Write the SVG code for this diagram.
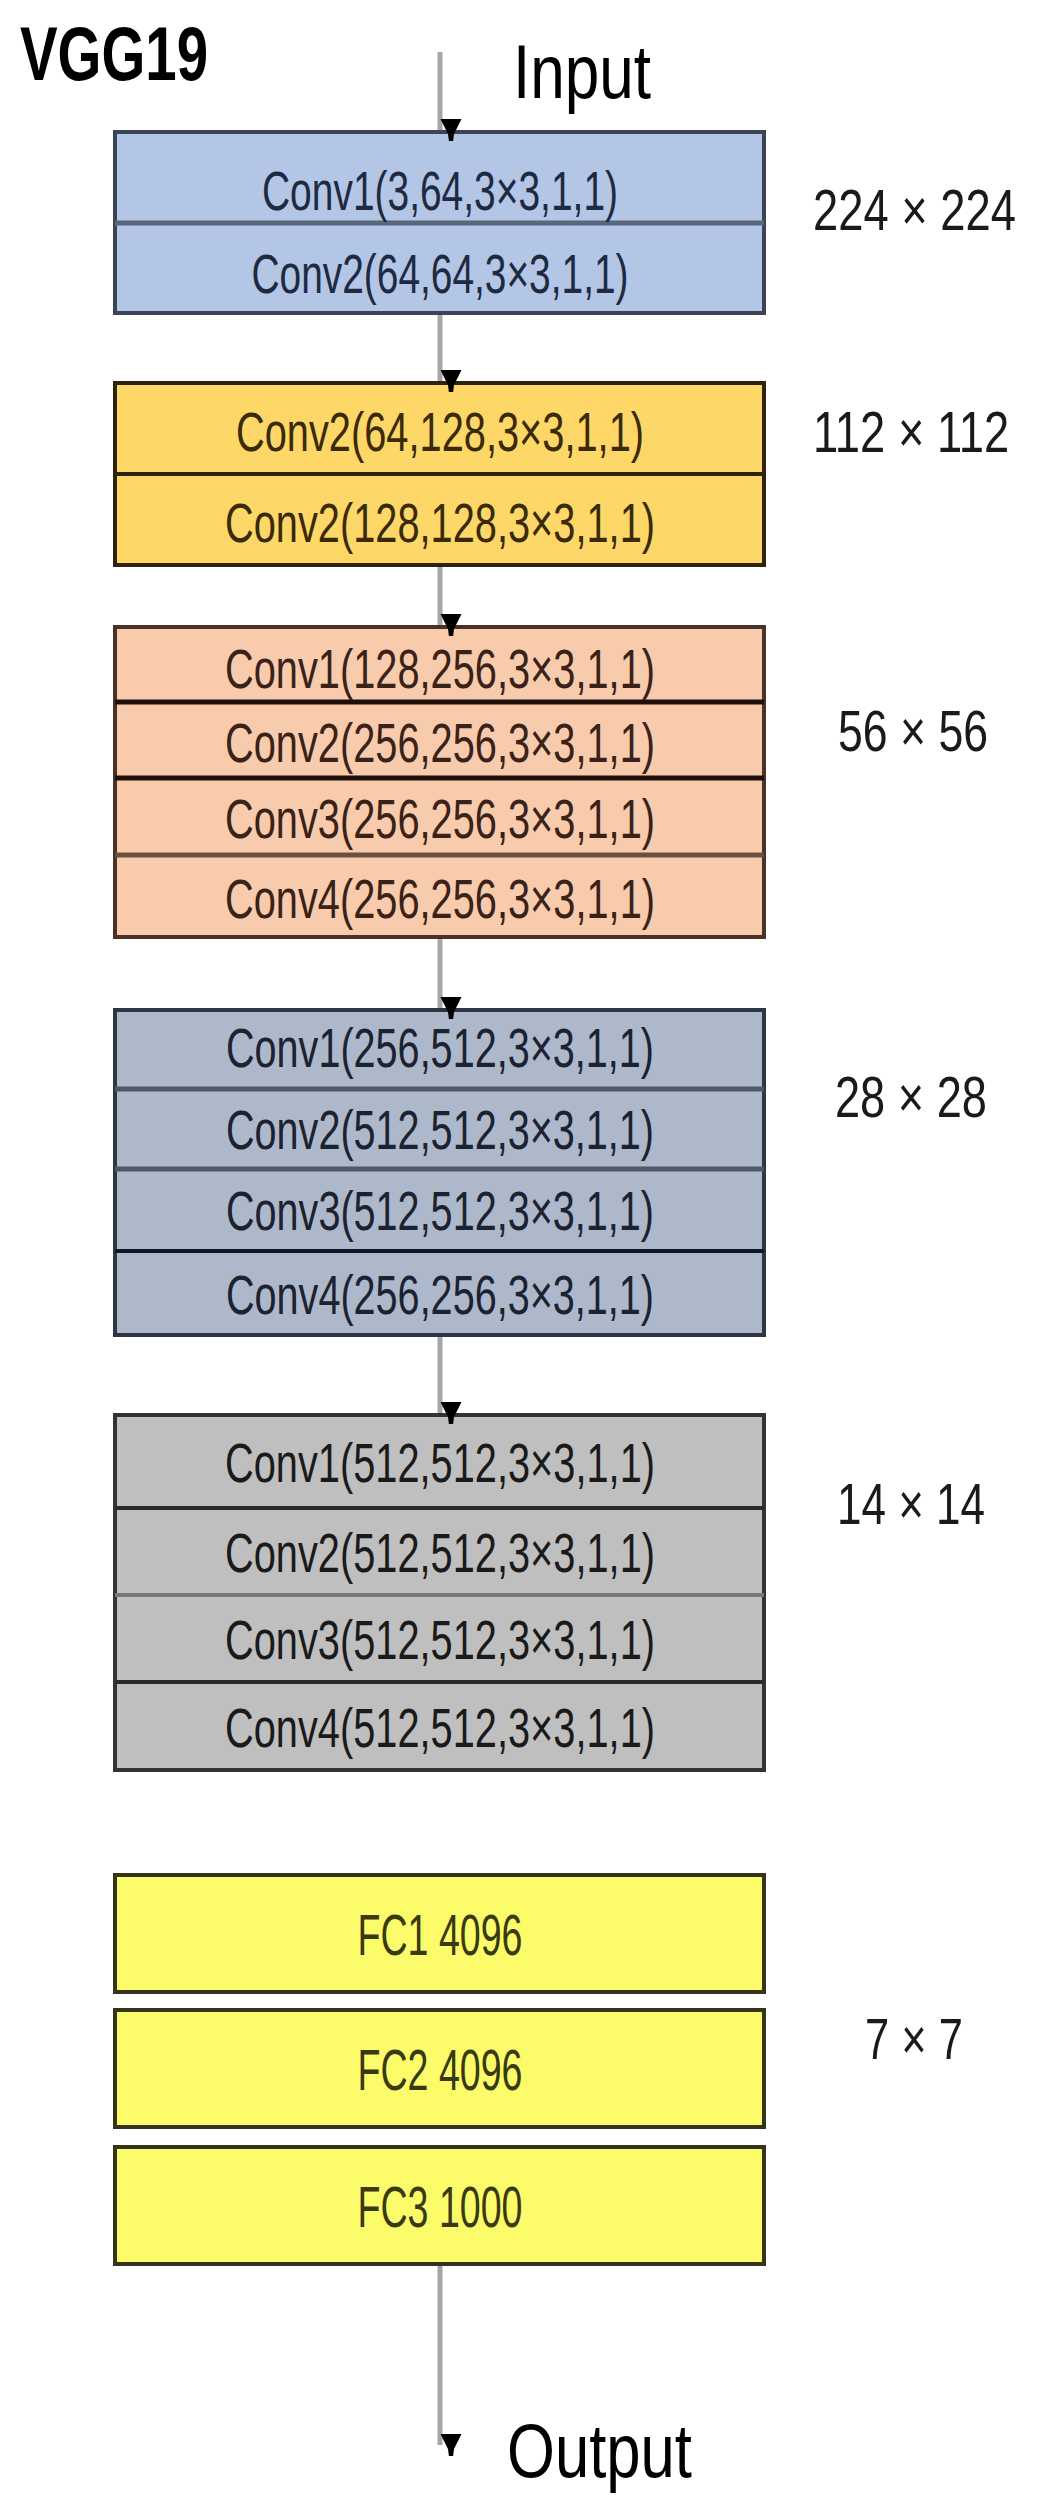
<svg xmlns="http://www.w3.org/2000/svg" width="1038" height="2501" viewBox="0 0 1038 2501">
<style>
  .t { font-family: "Liberation Sans", Arial, sans-serif; text-anchor: middle; font-size: 55px; }
  .fc { font-family: "Liberation Sans", Arial, sans-serif; text-anchor: middle; font-size: 57px; fill: #3a3a12; }
  .lbl { font-family: "Liberation Sans", Arial, sans-serif; text-anchor: start; font-size: 58px; fill: #1a1a1a; }
  .big { font-family: "Liberation Sans", Arial, sans-serif; font-size: 76px; fill: #000; }
  .b1 { fill: #b4c6e6; stroke: #3a4456; stroke-width: 4; }
  .b2 { fill: #fdd767; stroke: #2e230c; stroke-width: 4; }
  .b3 { fill: #f7cbac; stroke: #4a3326; stroke-width: 4; }
  .b4 { fill: #adb9cb; stroke: #2e3644; stroke-width: 4; }
  .b5 { fill: #bfbfbf; stroke: #333333; stroke-width: 4; }
  .b6 { fill: #fcfc6a; stroke: #35341a; stroke-width: 4; }
  .d1 { stroke: #5a667a; stroke-width: 5; }
  .d2 { stroke: #2e230c; stroke-width: 4; }
  .d3 { stroke: #1e0f0a; stroke-width: 5; }
  .d4 { stroke: #4e5868; stroke-width: 5; }
  .d5 { stroke: #2b2b2b; stroke-width: 4; }
  .conn { stroke: #a6a6a6; stroke-width: 5; fill: none; marker-end: url(#ah); }
</style>
<defs>
  <marker id="ah" markerUnits="userSpaceOnUse" markerWidth="22" markerHeight="24" viewBox="0 0 22 24" refX="11" refY="23" orient="auto-start-reverse">
    <path d="M0,0 L22,0 L14,16 L13,24 L9,24 L8,16 Z" fill="#000" transform="rotate(-90 11 12)"/>
  </marker>
</defs>

<g id="title">
  <text x="20" y="80" class="big" style="font-weight:bold" font-size="78" textLength="188" lengthAdjust="spacingAndGlyphs">VGG19</text>
</g>
<g id="input">
  <text x="513" y="98" class="big" textLength="138" lengthAdjust="spacingAndGlyphs">Input</text>
</g>
<g id="output">
  <text x="507" y="2477" class="big" textLength="185" lengthAdjust="spacingAndGlyphs">Output</text>
</g>

<g id="block1">
  <rect x="115" y="132" width="649" height="181" class="b1"/>
  <line x1="115" y1="223" x2="764" y2="223" class="d1"/>
  <text x="440" y="210" class="t" fill="#1f2a40" textLength="356" lengthAdjust="spacingAndGlyphs">Conv1(3,64,3×3,1,1)</text>
  <text x="440" y="293" class="t" fill="#1f2a40" textLength="377" lengthAdjust="spacingAndGlyphs">Conv2(64,64,3×3,1,1)</text>
</g>

<g id="block2">
  <rect x="115" y="383" width="649" height="182" class="b2"/>
  <line x1="115" y1="474" x2="764" y2="474" class="d2"/>
  <text x="440" y="451" class="t" fill="#3a2a08" textLength="408" lengthAdjust="spacingAndGlyphs">Conv2(64,128,3×3,1,1)</text>
  <text x="440" y="542" class="t" fill="#3a2a08" textLength="430" lengthAdjust="spacingAndGlyphs">Conv2(128,128,3×3,1,1)</text>
</g>

<g id="block3">
  <rect x="115" y="627" width="649" height="310" class="b3"/>
  <line x1="115" y1="702" x2="764" y2="702" class="d3"/>
  <line x1="115" y1="778" x2="764" y2="778" class="d3"/>
  <line x1="115" y1="855" x2="764" y2="855" class="d4" style="stroke:#6a5040"/>
  <text x="440" y="688" class="t" fill="#3a2218" textLength="430" lengthAdjust="spacingAndGlyphs">Conv1(128,256,3×3,1,1)</text>
  <text x="440" y="762" class="t" fill="#3a2218" textLength="430" lengthAdjust="spacingAndGlyphs">Conv2(256,256,3×3,1,1)</text>
  <text x="440" y="838" class="t" fill="#3a2218" textLength="430" lengthAdjust="spacingAndGlyphs">Conv3(256,256,3×3,1,1)</text>
  <text x="440" y="918" class="t" fill="#3a2218" textLength="430" lengthAdjust="spacingAndGlyphs">Conv4(256,256,3×3,1,1)</text>
</g>

<g id="block4">
  <rect x="115" y="1010" width="649" height="325" class="b4"/>
  <line x1="115" y1="1089" x2="764" y2="1089" class="d4"/>
  <line x1="115" y1="1169" x2="764" y2="1169" class="d4"/>
  <line x1="115" y1="1251" x2="764" y2="1251" class="d5" style="stroke:#101828"/>
  <text x="440" y="1067" class="t" fill="#1c2230" textLength="428" lengthAdjust="spacingAndGlyphs">Conv1(256,512,3×3,1,1)</text>
  <text x="440" y="1149" class="t" fill="#1c2230" textLength="428" lengthAdjust="spacingAndGlyphs">Conv2(512,512,3×3,1,1)</text>
  <text x="440" y="1230" class="t" fill="#1c2230" textLength="428" lengthAdjust="spacingAndGlyphs">Conv3(512,512,3×3,1,1)</text>
  <text x="440" y="1314" class="t" fill="#1c2230" textLength="428" lengthAdjust="spacingAndGlyphs">Conv4(256,256,3×3,1,1)</text>
</g>

<g id="block5">
  <rect x="115" y="1415" width="649" height="355" class="b5"/>
  <line x1="115" y1="1508" x2="764" y2="1508" class="d5"/>
  <line x1="115" y1="1595" x2="764" y2="1595" class="d5" style="stroke:#777"/>
  <line x1="115" y1="1682" x2="764" y2="1682" class="d5"/>
  <text x="440" y="1482" class="t" fill="#1a1a1a" textLength="430" lengthAdjust="spacingAndGlyphs">Conv1(512,512,3×3,1,1)</text>
  <text x="440" y="1572" class="t" fill="#1a1a1a" textLength="430" lengthAdjust="spacingAndGlyphs">Conv2(512,512,3×3,1,1)</text>
  <text x="440" y="1659" class="t" fill="#1a1a1a" textLength="430" lengthAdjust="spacingAndGlyphs">Conv3(512,512,3×3,1,1)</text>
  <text x="440" y="1747" class="t" fill="#1a1a1a" textLength="430" lengthAdjust="spacingAndGlyphs">Conv4(512,512,3×3,1,1)</text>
</g>

<g id="fc1">
  <rect x="115" y="1875" width="649" height="117" class="b6"/>
  <text x="440" y="1955" class="fc" textLength="165" lengthAdjust="spacingAndGlyphs">FC1 4096</text>
</g>
<g id="fc2">
  <rect x="115" y="2010" width="649" height="117" class="b6"/>
  <text x="440" y="2090" class="fc" textLength="165" lengthAdjust="spacingAndGlyphs">FC2 4096</text>
</g>
<g id="fc3">
  <rect x="115" y="2147" width="649" height="117" class="b6"/>
  <text x="440" y="2227" class="fc" textLength="165" lengthAdjust="spacingAndGlyphs">FC3 1000</text>
</g>

<g id="labels">
  <text class="lbl" transform="translate(813 230) scale(0.782 1)">224 × 224</text>
  <text class="lbl" transform="translate(813 452) scale(0.782 1)">112 × 112</text>
  <text class="lbl" transform="translate(838 751) scale(0.769 1)">56 × 56</text>
  <text class="lbl" transform="translate(835 1117) scale(0.779 1)">28 × 28</text>
  <text class="lbl" transform="translate(837 1524) scale(0.759 1)">14 × 14</text>
  <text class="lbl" transform="translate(865 2059) scale(0.750 1)">7 × 7</text>
</g>

<g id="connectors">
  <line x1="440" y1="52" x2="440" y2="130" class="conn"/>
  <line x1="440" y1="315" x2="440" y2="381" class="conn"/>
  <line x1="440" y1="567" x2="440" y2="625" class="conn"/>
  <line x1="440" y1="939" x2="440" y2="1008" class="conn"/>
  <line x1="440" y1="1337" x2="440" y2="1413" class="conn"/>
  <line x1="440" y1="2266" x2="440" y2="2445" class="conn"/>
</g>
</svg>
